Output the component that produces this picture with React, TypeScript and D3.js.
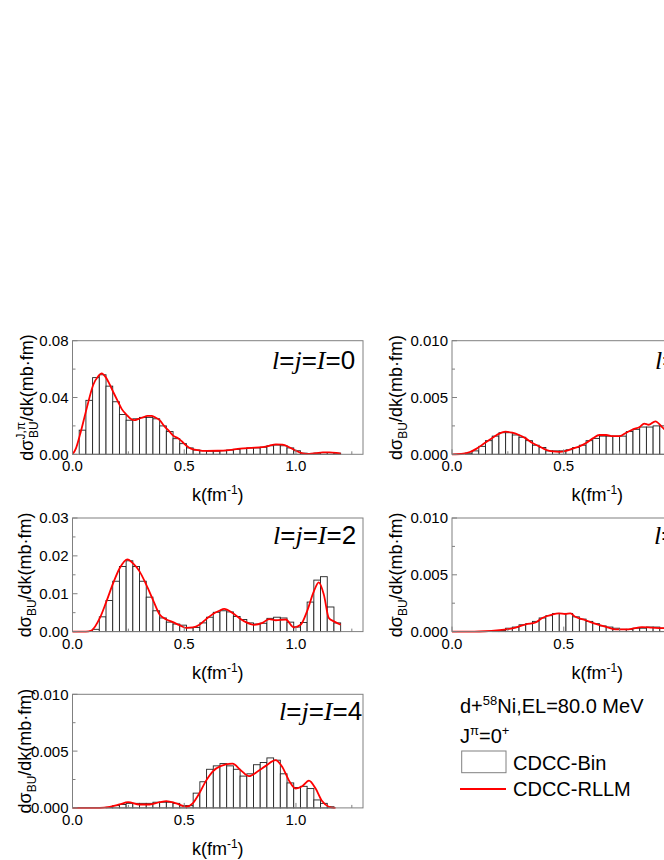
import React from "react";
import * as d3 from "d3";

// ---------- DATA ----------
const binLefts = [0.03,0.06,0.09,0.12,0.15,0.18,0.21,0.24,0.27,0.30,0.33,0.36,0.39,0.42,0.45,0.48,0.51,0.54,0.57,0.60,0.63,0.66,0.69,0.72,0.75,0.78,0.81,0.84,0.87,0.90,0.93,0.96,0.99,1.02,1.05,1.08,1.11,1.14,1.17];
const binWidth = 0.03;

const bars0 = [0.017,0.038,0.054,0.056,0.048,0.037,0.028,0.024,0.025,0.026,0.026,0.025,0.020,0.016,0.011,0.0075,0.0045,0.0030,0.0025,0.0022,0.0022,0.0025,0.0030,0.0035,0.0040,0.0045,0.0045,0.0050,0.0060,0.0065,0.0060,0.0045,0.0025,0.0008,0.0005,0.0008,0.0012,0.0012,0.0008];
const curve0: [number, number][] = [[0,0],[0.015,0.004],[0.033,0.0135],[0.063,0.032],[0.093,0.049],[0.115,0.055],[0.13,0.057],[0.15,0.054],[0.167,0.049],[0.185,0.043],[0.204,0.037],[0.22,0.032],[0.241,0.028],[0.26,0.025],[0.278,0.024],[0.296,0.025],[0.316,0.026],[0.335,0.027],[0.353,0.027],[0.37,0.026],[0.39,0.024],[0.41,0.02],[0.434,0.016],[0.452,0.013],[0.471,0.0115],[0.49,0.009],[0.51,0.006],[0.53,0.004],[0.56,0.003],[0.6,0.0024],[0.65,0.0025],[0.7,0.003],[0.75,0.004],[0.8,0.0045],[0.85,0.005],[0.88,0.006],[0.91,0.007],[0.94,0.0068],[0.97,0.005],[1.0,0.0025],[1.03,0.0007],[1.06,0.0003],[1.09,0.0008],[1.12,0.0013],[1.15,0.0014],[1.18,0.001],[1.2,0.0005]];

const bars1 = [0,0.0001,0.0003,0.0007,0.0012,0.0016,0.0019,0.0019,0.0017,0.0015,0.0012,0.0008,0.0006,0.0003,0.0003,0.0003,0.0004,0.0006,0.0008,0.0012,0.0014,0.0016,0.0016,0.0016,0.0016,0.0020,0.0022,0.0024,0.0024,0.0025,0.0025];
const curve1: [number, number][] = [[0,0],[0.05,0.00005],[0.08,0.0002],[0.11,0.0005],[0.14,0.0009],[0.17,0.0013],[0.2,0.0017],[0.24,0.002],[0.27,0.0019],[0.3,0.0017],[0.33,0.0014],[0.36,0.001],[0.39,0.0007],[0.42,0.0004],[0.45,0.00025],[0.48,0.00022],[0.51,0.0003],[0.54,0.0005],[0.57,0.0007],[0.6,0.001],[0.63,0.0014],[0.66,0.0017],[0.69,0.0017],[0.72,0.0016],[0.75,0.0016],[0.78,0.0019],[0.81,0.0022],[0.84,0.0024],[0.86,0.0027],[0.88,0.0026],[0.91,0.0029],[0.94,0.0024],[0.97,0.0018]];

const bars2 = [0,0,0.0006,0.0039,0.0082,0.0133,0.0172,0.0187,0.0172,0.0133,0.0091,0.0055,0.0036,0.0025,0.002,0.0017,0.001,0.0011,0.0023,0.0038,0.0051,0.0055,0.0052,0.004,0.0032,0.0023,0.002,0.0022,0.0035,0.0038,0.0036,0.0025,0.0012,0.0024,0.0078,0.0136,0.0145,0.0065,0.0023];
const curve2: [number, number][] = [[0,0],[0.06,0],[0.085,0.0003],[0.1225,0.0036],[0.152,0.008],[0.182,0.0128],[0.2116,0.0168],[0.246,0.0191],[0.271,0.018],[0.30,0.0159],[0.33,0.0124],[0.36,0.0084],[0.39,0.0045],[0.42,0.0032],[0.449,0.0025],[0.479,0.0017],[0.509,0.001],[0.538,0.0011],[0.568,0.0018],[0.598,0.0033],[0.627,0.0046],[0.657,0.0055],[0.679,0.006],[0.716,0.0049],[0.746,0.0036],[0.776,0.0025],[0.813,0.0018],[0.85,0.0023],[0.88,0.0033],[0.91,0.003],[0.954,0.0032],[0.991,0.0011],[1.021,0.0018],[1.05,0.0054],[1.08,0.0106],[1.102,0.013],[1.125,0.0097],[1.147,0.0036],[1.17,0.0027],[1.2,0.0018]];

const bars3 = [0,0,0,0,0,0.00005,0.0001,0.0003,0.0004,0.0006,0.0007,0.0009,0.0012,0.0014,0.0016,0.0016,0.0016,0.0013,0.0011,0.0009,0.0007,0.0005,0.0004,0.0003,0.0002,0.0002,0.0003,0.0003,0.0004,0.0004,0.0003];
const curve3: [number, number][] = [[0,0],[0.1,0],[0.15,0.00003],[0.2,0.0001],[0.243,0.0002],[0.285,0.00035],[0.33,0.00064],[0.374,0.0008],[0.404,0.0012],[0.448,0.0015],[0.478,0.0016],[0.507,0.00155],[0.53,0.0016],[0.552,0.0013],[0.597,0.001],[0.64,0.0007],[0.686,0.00044],[0.73,0.0002],[0.79,0.0002],[0.85,0.0004],[0.894,0.00035],[0.94,0.0003],[0.97,0.0003]];

const bars4 = [0,0,0,0,0.00005,0.0002,0.0003,0.0004,0.0004,0.0004,0.0004,0.0005,0.0005,0.0005,0.0004,0.0002,0.0002,0.0013,0.0023,0.0034,0.0037,0.0039,0.0037,0.0034,0.0028,0.003,0.0038,0.004,0.0044,0.0042,0.003,0.0022,0.0018,0.0019,0.0017,0.0007,0.0004,0.0001,0];
const curve4: [number, number][] = [[0,0],[0.122,0],[0.167,0.0001],[0.21,0.0003],[0.249,0.0005],[0.30,0.0003],[0.345,0.0003],[0.39,0.0005],[0.42,0.0006],[0.464,0.0004],[0.509,0.0001],[0.538,0.0004],[0.568,0.0013],[0.598,0.0024],[0.627,0.0032],[0.665,0.0037],[0.716,0.0039],[0.754,0.0033],[0.79,0.0028],[0.828,0.0032],[0.865,0.0037],[0.909,0.0042],[0.939,0.0036],[0.969,0.0024],[0.999,0.0017],[1.028,0.0019],[1.058,0.0024],[1.088,0.0017],[1.117,0.0006],[1.147,0.0001],[1.177,0]];

const xTicks = [0, 0.5, 1.0];
const xMinorTicks = [0.25, 0.75, 1.25];
const xTickLabels = ["0.0", "0.5", "1.0"];
const yTicks0 = [0, 0.04, 0.08];
const yTickLabels0 = ["0.00", "0.04", "0.08"];
const yMinor0 = [0.02, 0.06];
const yTicks2 = [0, 0.01, 0.02, 0.03];
const yTickLabels2 = ["0.00", "0.01", "0.02", "0.03"];
const yMinor2 = [0.005, 0.015, 0.025];
const yTicksS = [0, 0.005, 0.01];
const yTickLabelsS = ["0.000", "0.005", "0.010"];
const yMinorS = [0.0025, 0.0075];
const panelLabels = ["0", "1", "2", "3", "4"];
const legendTitle = ["d+", "58", "Ni,EL=80.0 MeV"];
const legendItems = ["CDCC-Bin", "CDCC-RLLM"];

// ---------- LAYOUT ----------
const PW = 290.5;
const PH = 113.6;
const SANS = "'Liberation Sans', Arial, sans-serif";
const SERIF = "'Liberation Serif', 'Times New Roman', serif";
const FRAME = "#808080";

type PanelProps = {
  left: number; top: number; yMax: number;
  yTicks: number[]; yTickLabels: string[]; yMinor: number[];
  bars: number[]; curve: [number, number][];
  titleX: number; sup?: boolean; label: string; labelX: number; labelY: number;
};

function Panel(p: PanelProps) {
  const x = d3.scaleLinear().domain([0, 1.3]).range([p.left, p.left + PW]);
  const y = d3.scaleLinear().domain([0, p.yMax]).range([p.top + PH, p.top]);
  const bottom = p.top + PH;
  const line = d3.line<[number, number]>().x(d => x(d[0])).y(d => y(d[1])).curve(d3.curveMonotoneX);
  const cy = p.top + PH / 2;
  return (
    <g>
      {p.bars.map((v, i) => (
        <rect key={i} x={x(binLefts[i])} y={y(v)} width={x(binLefts[i] + binWidth) - x(binLefts[i])}
          height={bottom - y(v)} fill="white" stroke="#222" strokeWidth={0.9} />
      ))}
      <path d={line(p.curve) || ""} fill="none" stroke="#ff0000" strokeWidth={1.8} />
      <rect x={p.left} y={p.top} width={PW} height={PH} fill="none" stroke={FRAME} strokeWidth={1} />
      {p.yTicks.map((t, i) => (
        <g key={"yt" + i}>
          <line x1={p.left} x2={p.left + 5} y1={y(t)} y2={y(t)} stroke={FRAME} />
          <text x={p.left - 4} y={y(t)} dy="0.36em" textAnchor="end" fontSize={15} fontFamily={SANS}>{p.yTickLabels[i]}</text>
        </g>
      ))}
      {p.yMinor.map((t, i) => (
        <line key={"ym" + i} x1={p.left} x2={p.left + 3} y1={y(t)} y2={y(t)} stroke={FRAME} />
      ))}
      {xTicks.map((t, i) => (
        <g key={"xt" + i}>
          <line x1={x(t)} x2={x(t)} y1={bottom} y2={bottom - 5} stroke={FRAME} />
          <text x={x(t)} y={bottom + 17} textAnchor="middle" fontSize={15} fontFamily={SANS}>{xTickLabels[i]}</text>
        </g>
      ))}
      {xMinorTicks.map((t, i) => (
        <line key={"xm" + i} x1={x(t)} x2={x(t)} y1={bottom} y2={bottom - 3} stroke={FRAME} />
      ))}
      <text x={p.left + PW / 2} y={bottom + 47} textAnchor="middle" fontSize={18} fontFamily={SANS}>
        k(fm<tspan fontSize={12} dy={-7}>-1</tspan><tspan dy={7}>)</tspan>
      </text>
      <g transform={`translate(${p.titleX},${cy}) rotate(-90)`}>
        {p.sup ? (
          <text x={0} y={0} textAnchor="middle" fontSize={18} fontFamily={SANS}>
            dσ<tspan fontSize={12} dy={-8}>J,π</tspan><tspan fontSize={12} dx={-16} dy={13}>BU</tspan><tspan dy={-5}>/dk(mb·fm)</tspan>
          </text>
        ) : (
          <text x={0} y={0} textAnchor="middle" fontSize={18} fontFamily={SANS}>
            dσ<tspan fontSize={12} dy={5}>BU</tspan><tspan dy={-5}>/dk(mb·fm)</tspan>
          </text>
        )}
      </g>
      <text x={p.labelX} y={p.labelY} fontSize={26} fontFamily={SANS}>
        <tspan fontFamily={SERIF} fontStyle="italic">l</tspan>=<tspan fontFamily={SERIF} fontStyle="italic">j</tspan>=<tspan fontFamily={SERIF} fontStyle="italic">I</tspan>={p.label}
      </text>
    </g>
  );
}

export default function App() {
  const L = 72.5, R = 452;
  const T1 = 340.7, T2 = 518, T3 = 694.3;
  return (
    <svg width={664} height={860} style={{ position: "absolute", left: 0, top: 0, background: "white" }}>
      <rect x={0} y={0} width={664} height={860} fill="white" />
      <Panel left={L} top={T1} yMax={0.08} yTicks={yTicks0} yTickLabels={yTickLabels0} yMinor={yMinor0}
        bars={bars0} curve={curve0} titleX={33} sup label={panelLabels[0]} labelX={272} labelY={369} />
      <Panel left={R} top={T1} yMax={0.01} yTicks={yTicksS} yTickLabels={yTickLabelsS} yMinor={yMinorS}
        bars={bars1} curve={curve1} titleX={402} label={panelLabels[1]} labelX={655} labelY={369} />
      <Panel left={L} top={T2} yMax={0.03} yTicks={yTicks2} yTickLabels={yTickLabels2} yMinor={yMinor2}
        bars={bars2} curve={curve2} titleX={31} label={panelLabels[2]} labelX={273} labelY={544} />
      <Panel left={R} top={T2} yMax={0.01} yTicks={yTicksS} yTickLabels={yTickLabelsS} yMinor={yMinorS}
        bars={bars3} curve={curve3} titleX={402} label={panelLabels[3]} labelX={654} labelY={544} />
      <Panel left={L} top={T3} yMax={0.01} yTicks={yTicksS} yTickLabels={yTickLabelsS} yMinor={yMinorS}
        bars={bars4} curve={curve4} titleX={31} label={panelLabels[4]} labelX={279} labelY={720} />
      <g fontFamily={SANS} fontSize={20}>
        <text x={460} y={713}>{legendTitle[0]}<tspan fontSize={13} dy={-8}>{legendTitle[1]}</tspan><tspan dy={8}>{legendTitle[2]}</tspan></text>
        <text x={460} y={743}>J<tspan fontSize={13} dy={-8}>π</tspan><tspan dy={8}>=0</tspan><tspan fontSize={13} dy={-8}>+</tspan></text>
        <rect x={461.7} y={751} width={44.3} height={21.7} fill="white" stroke={FRAME} strokeWidth={1} />
        <text x={513} y={770}>{legendItems[0]}</text>
        <line x1={460} x2={506} y1={789} y2={789} stroke="#ff0000" strokeWidth={1.8} />
        <text x={513} y={796}>{legendItems[1]}</text>
      </g>
    </svg>
  );
}
